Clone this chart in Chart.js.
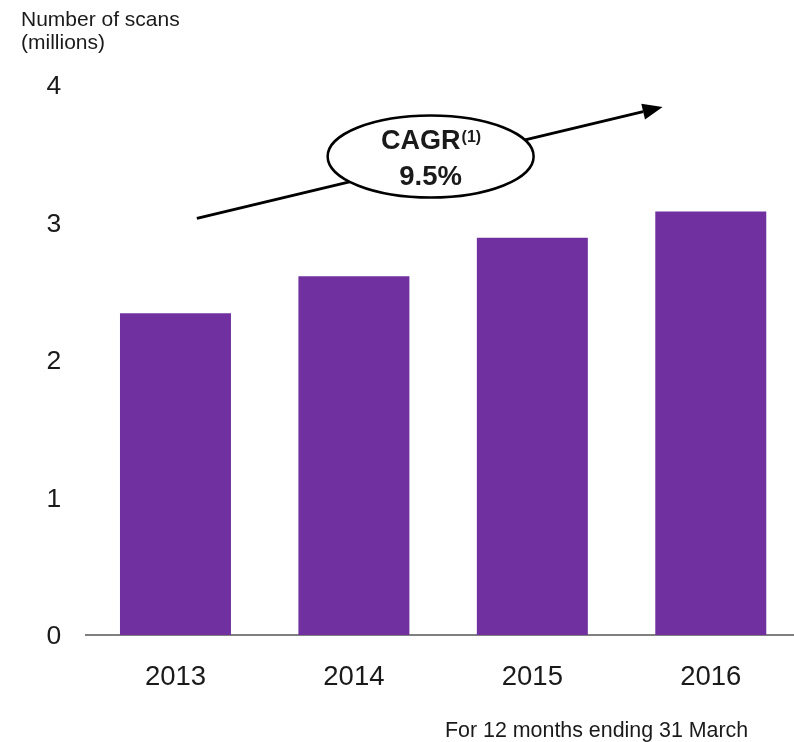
<!DOCTYPE html>
<html>
<head>
<meta charset="utf-8">
<script src="https://cdn.jsdelivr.net/npm/chart.js@4/dist/chart.umd.min.js"></script>
<style>
html,body{margin:0;padding:0;background:#fff;overflow:hidden;width:794px;height:742px;}
#wrap{position:absolute;left:0;top:0;width:802px;height:742px;}
</style>
</head>
<body>
<div id="wrap"><canvas id="c" width="802" height="742"></canvas></div>
<script>
const categories = ['2013', '2014', '2015', '2016'];
const scans = [2.34, 2.61, 2.89, 3.08];
const yTicks = [0, 1, 2, 3, 4];
const yTitle = ['Number of scans', '(millions)'];
const footnote = 'For 12 months ending 31 March';
const cagrLabel = 'CAGR';
const cagrNote = '(1)';
const cagrValue = '9.5%';
// arrow in data coordinates: [category index, value]
const arrowStart = [0.12, 3.03];
const arrowEnd = [2.73, 3.84];
const bubbleCenter = [1.43, 3.48];

const FONT = "'Liberation Sans', Arial, Helvetica, sans-serif";
const TXT = '#1a1a1a';

const overlay = {
  id: 'overlay',
  afterDraw(chart) {
    const ctx = chart.ctx;
    const xs = chart.scales.x, ys = chart.scales.y;
    ctx.save();
    // y title
    ctx.fillStyle = TXT;
    ctx.font = '21px ' + FONT;
    ctx.textAlign = 'left';
    ctx.textBaseline = 'alphabetic';
    ctx.fillText(yTitle[0], 21, 26);
    ctx.fillText(yTitle[1], 21, 49);
    // footnote
    ctx.font = '21.4px ' + FONT;
    ctx.fillText(footnote, 445, 737);

    // arrow
    const x1 = xs.getPixelForValue(arrowStart[0]), y1 = ys.getPixelForValue(arrowStart[1]);
    const x2 = xs.getPixelForValue(arrowEnd[0]), y2 = ys.getPixelForValue(arrowEnd[1]);
    const ang = Math.atan2(y2 - y1, x2 - x1);
    const hl = 20, hw = 8;
    const bx = x2 - hl * Math.cos(ang), by = y2 - hl * Math.sin(ang);
    ctx.strokeStyle = '#000';
    ctx.lineWidth = 3;
    ctx.beginPath();
    ctx.moveTo(x1, y1);
    ctx.lineTo(bx, by);
    ctx.stroke();
    ctx.fillStyle = '#000';
    ctx.beginPath();
    ctx.moveTo(x2, y2);
    ctx.lineTo(bx + hw * Math.sin(ang), by - hw * Math.cos(ang));
    ctx.lineTo(bx - hw * Math.sin(ang), by + hw * Math.cos(ang));
    ctx.closePath();
    ctx.fill();

    // bubble
    const cx = xs.getPixelForValue(bubbleCenter[0]), cy = ys.getPixelForValue(bubbleCenter[1]);
    ctx.beginPath();
    ctx.ellipse(cx, cy, 103, 41, 0, 0, Math.PI * 2);
    ctx.fillStyle = '#fff';
    ctx.fill();
    ctx.lineWidth = 2.5;
    ctx.strokeStyle = '#000';
    ctx.stroke();

    ctx.fillStyle = TXT;
    ctx.textBaseline = 'alphabetic';
    ctx.font = 'bold 27px ' + FONT;
    const w1 = ctx.measureText(cagrLabel).width;
    ctx.font = 'bold 16px ' + FONT;
    const w2 = ctx.measureText(cagrNote).width;
    const start = cx - (w1 + w2) / 2;
    ctx.textAlign = 'left';
    ctx.font = 'bold 27px ' + FONT;
    ctx.fillText(cagrLabel, start, cy - 8);
    ctx.font = 'bold 16px ' + FONT;
    ctx.fillText(cagrNote, start + w1 + 1, cy - 15);
    ctx.font = 'bold 27.5px ' + FONT;
    ctx.textAlign = 'center';
    ctx.fillText(cagrValue, cx, cy + 28.5);
    ctx.restore();
  }
};

new Chart(document.getElementById('c'), {
  type: 'bar',
  data: {
    labels: categories,
    datasets: [{
      data: scans,
      backgroundColor: '#7030A0',
      borderWidth: 0,
      barPercentage: 0.622,
      categoryPercentage: 1.0
    }]
  },
  options: {
    responsive: false,
    animation: false,
    events: [],
    layout: { padding: { left: 0, top: 85, right: 2, bottom: 0 } },
    plugins: { legend: { display: false }, tooltip: { enabled: false }, title: { display: false } },
    scales: {
      x: {
        grid: { display: false, drawTicks: false },
        border: { display: true, color: '#808080', width: 2 },
        ticks: { color: TXT, font: { family: FONT, size: 27.5 }, padding: 26 },
        afterFit(s) { s.height = 107; }
      },
      y: {
        min: 0, max: 4,
        afterBuildTicks(s) { s.ticks = yTicks.map(v => ({ value: v })); },
        grid: { display: false, drawTicks: false },
        border: { display: false },
        ticks: { color: TXT, font: { family: FONT, size: 26.5 }, padding: 25, labelOffset: 2 },
        afterFit(s) { s.width = 86.25; }
      }
    }
  },
  plugins: [overlay]
});
</script>
</body>
</html>
